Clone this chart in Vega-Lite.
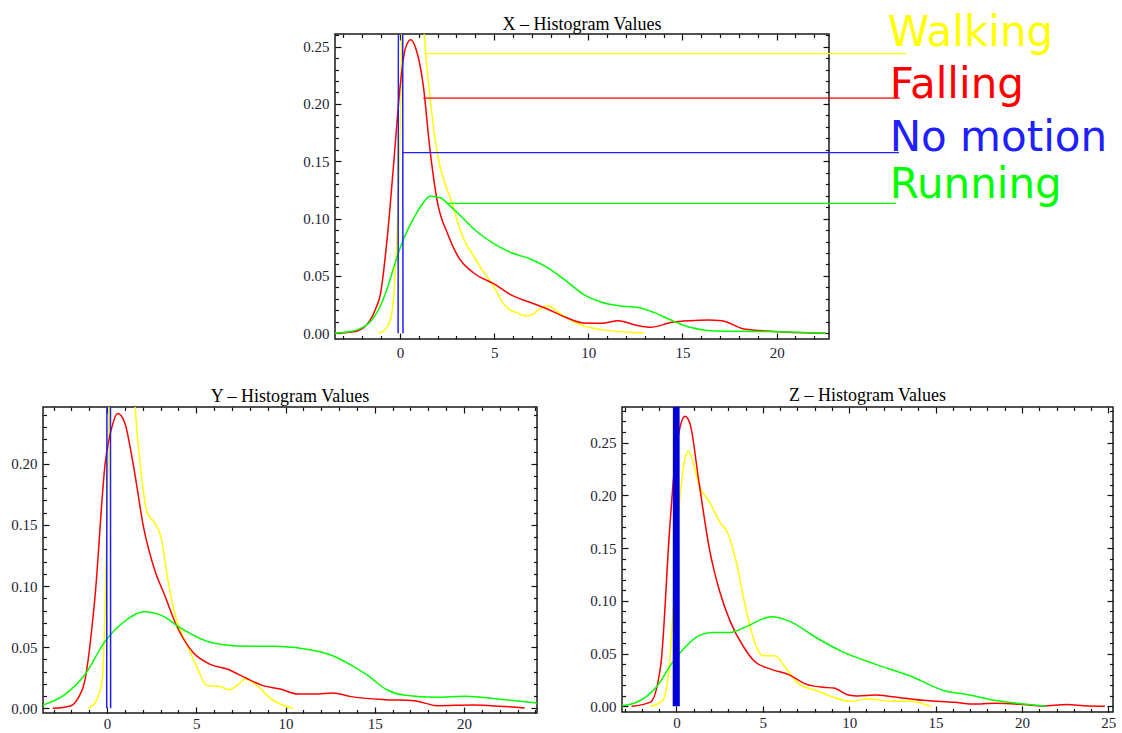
{
  "$schema": "https://vega.github.io/schema/vega-lite/v6.json",
  "background": "white",
  "padding": {"left": 10, "top": 11, "right": 0, "bottom": 0},
  "config": {
    "view": {"stroke": "#1a1a1a", "strokeWidth": 1.5},
    "axis": {"domain": false, "grid": false, "title": null, "tickColor": "#111", "tickWidth": 1.2, "labelFont": "Liberation Serif", "labelFontSize": 15, "labelColor": "#222233", "labelPadding": 12, "labelFlush": false, "labelOverlap": false, "labelBound": false},
    "title": {"font": "Liberation Serif", "fontSize": 18, "fontWeight": "normal", "color": "#000", "baseline": "alphabetic", "offset": 5}
  },
  "datasets": {
    "curves": [
      {"panel": "X", "series": "Walking", "x": -1.13, "y": 0}, {"panel": "X", "series": "Walking", "x": -0.8, "y": 0.003}, {"panel": "X", "series": "Walking", "x": -0.5, "y": 0.012}, {"panel": "X", "series": "Walking", "x": -0.3, "y": 0.04}, {"panel": "X", "series": "Walking", "x": -0.15, "y": 0.09}, {"panel": "X", "series": "Walking", "x": 0, "y": 0.17}, {"panel": "X", "series": "Walking", "x": 0.1, "y": 0.27}, {"panel": "X", "series": "Walking", "x": 0.35, "y": 0.38}, {"panel": "X", "series": "Walking", "x": 0.7, "y": 0.42}, {"panel": "X", "series": "Walking", "x": 1.0, "y": 0.37}, {"panel": "X", "series": "Walking", "x": 1.29, "y": 0.261}, {"panel": "X", "series": "Walking", "x": 1.6, "y": 0.205}, {"panel": "X", "series": "Walking", "x": 1.98, "y": 0.157}, {"panel": "X", "series": "Walking", "x": 2.3, "y": 0.135}, {"panel": "X", "series": "Walking", "x": 2.74, "y": 0.115}, {"panel": "X", "series": "Walking", "x": 3.1, "y": 0.095}, {"panel": "X", "series": "Walking", "x": 3.5, "y": 0.078}, {"panel": "X", "series": "Walking", "x": 3.9, "y": 0.068}, {"panel": "X", "series": "Walking", "x": 4.25, "y": 0.058}, {"panel": "X", "series": "Walking", "x": 4.6, "y": 0.05}, {"panel": "X", "series": "Walking", "x": 5.0, "y": 0.04}, {"panel": "X", "series": "Walking", "x": 5.4, "y": 0.028}, {"panel": "X", "series": "Walking", "x": 5.77, "y": 0.021}, {"panel": "X", "series": "Walking", "x": 6.2, "y": 0.018}, {"panel": "X", "series": "Walking", "x": 6.7, "y": 0.015}, {"panel": "X", "series": "Walking", "x": 7.0, "y": 0.016}, {"panel": "X", "series": "Walking", "x": 7.3, "y": 0.0197}, {"panel": "X", "series": "Walking", "x": 7.85, "y": 0.024}, {"panel": "X", "series": "Walking", "x": 8.2, "y": 0.021}, {"panel": "X", "series": "Walking", "x": 8.6, "y": 0.016}, {"panel": "X", "series": "Walking", "x": 9.1, "y": 0.011}, {"panel": "X", "series": "Walking", "x": 9.7, "y": 0.0067}, {"panel": "X", "series": "Walking", "x": 10.4, "y": 0.004}, {"panel": "X", "series": "Walking", "x": 11.05, "y": 0.0023}, {"panel": "X", "series": "Walking", "x": 12.0, "y": 0.001}, {"panel": "X", "series": "Walking", "x": 12.95, "y": 0.0003},
      {"panel": "X", "series": "Falling", "x": -3.5, "y": 0}, {"panel": "X", "series": "Falling", "x": -2.55, "y": 0.001}, {"panel": "X", "series": "Falling", "x": -2.0, "y": 0.004}, {"panel": "X", "series": "Falling", "x": -1.6, "y": 0.011}, {"panel": "X", "series": "Falling", "x": -1.3, "y": 0.021}, {"panel": "X", "series": "Falling", "x": -1.04, "y": 0.034}, {"panel": "X", "series": "Falling", "x": -0.66, "y": 0.086}, {"panel": "X", "series": "Falling", "x": -0.28, "y": 0.159}, {"panel": "X", "series": "Falling", "x": 0, "y": 0.214}, {"panel": "X", "series": "Falling", "x": 0.28, "y": 0.248}, {"panel": "X", "series": "Falling", "x": 0.57, "y": 0.256}, {"panel": "X", "series": "Falling", "x": 0.85, "y": 0.248}, {"panel": "X", "series": "Falling", "x": 1.23, "y": 0.217}, {"panel": "X", "series": "Falling", "x": 1.6, "y": 0.159}, {"panel": "X", "series": "Falling", "x": 1.98, "y": 0.115}, {"panel": "X", "series": "Falling", "x": 2.55, "y": 0.086}, {"panel": "X", "series": "Falling", "x": 3.12, "y": 0.066}, {"panel": "X", "series": "Falling", "x": 3.88, "y": 0.053}, {"panel": "X", "series": "Falling", "x": 5.0, "y": 0.043}, {"panel": "X", "series": "Falling", "x": 5.95, "y": 0.033}, {"panel": "X", "series": "Falling", "x": 6.9, "y": 0.027}, {"panel": "X", "series": "Falling", "x": 7.85, "y": 0.021}, {"panel": "X", "series": "Falling", "x": 8.8, "y": 0.014}, {"panel": "X", "series": "Falling", "x": 9.74, "y": 0.009}, {"panel": "X", "series": "Falling", "x": 10.7, "y": 0.0087}, {"panel": "X", "series": "Falling", "x": 11.6, "y": 0.011}, {"panel": "X", "series": "Falling", "x": 12.6, "y": 0.0067}, {"panel": "X", "series": "Falling", "x": 13.3, "y": 0.0052}, {"panel": "X", "series": "Falling", "x": 14.46, "y": 0.0096}, {"panel": "X", "series": "Falling", "x": 15.4, "y": 0.011}, {"panel": "X", "series": "Falling", "x": 16.35, "y": 0.0116}, {"panel": "X", "series": "Falling", "x": 17.1, "y": 0.011}, {"panel": "X", "series": "Falling", "x": 18.26, "y": 0.0038}, {"panel": "X", "series": "Falling", "x": 20.1, "y": 0.0014}, {"panel": "X", "series": "Falling", "x": 22.6, "y": 0},
      {"panel": "X", "series": "Running", "x": -3.5, "y": 0}, {"panel": "X", "series": "Running", "x": -2.55, "y": 0.0017}, {"panel": "X", "series": "Running", "x": -1.6, "y": 0.0096}, {"panel": "X", "series": "Running", "x": -1.1, "y": 0.022}, {"panel": "X", "series": "Running", "x": -0.66, "y": 0.04}, {"panel": "X", "series": "Running", "x": -0.3, "y": 0.059}, {"panel": "X", "series": "Running", "x": 0.09, "y": 0.078}, {"panel": "X", "series": "Running", "x": 0.4, "y": 0.09}, {"panel": "X", "series": "Running", "x": 0.85, "y": 0.104}, {"panel": "X", "series": "Running", "x": 1.2, "y": 0.113}, {"panel": "X", "series": "Running", "x": 1.6, "y": 0.1196}, {"panel": "X", "series": "Running", "x": 2.17, "y": 0.118}, {"panel": "X", "series": "Running", "x": 2.6, "y": 0.112}, {"panel": "X", "series": "Running", "x": 3.12, "y": 0.104}, {"panel": "X", "series": "Running", "x": 4.06, "y": 0.089}, {"panel": "X", "series": "Running", "x": 5.0, "y": 0.078}, {"panel": "X", "series": "Running", "x": 5.95, "y": 0.07}, {"panel": "X", "series": "Running", "x": 6.9, "y": 0.065}, {"panel": "X", "series": "Running", "x": 7.85, "y": 0.057}, {"panel": "X", "series": "Running", "x": 8.8, "y": 0.046}, {"panel": "X", "series": "Running", "x": 9.74, "y": 0.034}, {"panel": "X", "series": "Running", "x": 10.7, "y": 0.027}, {"panel": "X", "series": "Running", "x": 11.6, "y": 0.024}, {"panel": "X", "series": "Running", "x": 12.6, "y": 0.0226}, {"panel": "X", "series": "Running", "x": 13.5, "y": 0.018}, {"panel": "X", "series": "Running", "x": 14.46, "y": 0.011}, {"panel": "X", "series": "Running", "x": 15.4, "y": 0.0052}, {"panel": "X", "series": "Running", "x": 16.3, "y": 0.0025}, {"panel": "X", "series": "Running", "x": 17.3, "y": 0.0017}, {"panel": "X", "series": "Running", "x": 20.1, "y": 0.0014}, {"panel": "X", "series": "Running", "x": 22.6, "y": 0},
      {"panel": "X", "series": "No motion", "x": -0.1, "y": 0}, {"panel": "X", "series": "No motion", "x": -0.06, "y": 0.5}, {"panel": "X", "series": "No motion", "x": 0.13, "y": 0.5}, {"panel": "X", "series": "No motion", "x": 0.16, "y": 0},
      {"panel": "Y", "series": "Walking", "x": -1.08, "y": 0}, {"panel": "Y", "series": "Walking", "x": -0.7, "y": 0.004}, {"panel": "Y", "series": "Walking", "x": -0.45, "y": 0.012}, {"panel": "Y", "series": "Walking", "x": -0.29, "y": 0.021}, {"panel": "Y", "series": "Walking", "x": -0.15, "y": 0.06}, {"panel": "Y", "series": "Walking", "x": -0.05, "y": 0.12}, {"panel": "Y", "series": "Walking", "x": 0.05, "y": 0.2}, {"panel": "Y", "series": "Walking", "x": 0.12, "y": 0.26}, {"panel": "Y", "series": "Walking", "x": 0.5, "y": 0.4}, {"panel": "Y", "series": "Walking", "x": 1.0, "y": 0.4}, {"panel": "Y", "series": "Walking", "x": 1.57, "y": 0.246}, {"panel": "Y", "series": "Walking", "x": 1.86, "y": 0.199}, {"panel": "Y", "series": "Walking", "x": 2.25, "y": 0.16}, {"panel": "Y", "series": "Walking", "x": 2.65, "y": 0.152}, {"panel": "Y", "series": "Walking", "x": 3.04, "y": 0.139}, {"panel": "Y", "series": "Walking", "x": 3.43, "y": 0.103}, {"panel": "Y", "series": "Walking", "x": 3.82, "y": 0.076}, {"panel": "Y", "series": "Walking", "x": 4.41, "y": 0.054}, {"panel": "Y", "series": "Walking", "x": 5.0, "y": 0.035}, {"panel": "Y", "series": "Walking", "x": 5.6, "y": 0.0186}, {"panel": "Y", "series": "Walking", "x": 6.27, "y": 0.018}, {"panel": "Y", "series": "Walking", "x": 6.86, "y": 0.0153}, {"panel": "Y", "series": "Walking", "x": 7.3, "y": 0.019}, {"panel": "Y", "series": "Walking", "x": 7.75, "y": 0.024}, {"panel": "Y", "series": "Walking", "x": 8.2, "y": 0.021}, {"panel": "Y", "series": "Walking", "x": 8.53, "y": 0.017}, {"panel": "Y", "series": "Walking", "x": 9.0, "y": 0.01}, {"panel": "Y", "series": "Walking", "x": 9.5, "y": 0.005}, {"panel": "Y", "series": "Walking", "x": 10.4, "y": 0},
      {"panel": "Y", "series": "Falling", "x": -3.04, "y": 0}, {"panel": "Y", "series": "Falling", "x": -2.06, "y": 0.002}, {"panel": "Y", "series": "Falling", "x": -1.6, "y": 0.009}, {"panel": "Y", "series": "Falling", "x": -1.27, "y": 0.021}, {"panel": "Y", "series": "Falling", "x": -0.69, "y": 0.089}, {"panel": "Y", "series": "Falling", "x": -0.1, "y": 0.201}, {"panel": "Y", "series": "Falling", "x": 0.29, "y": 0.231}, {"panel": "Y", "series": "Falling", "x": 0.59, "y": 0.241}, {"panel": "Y", "series": "Falling", "x": 0.98, "y": 0.234}, {"panel": "Y", "series": "Falling", "x": 1.47, "y": 0.199}, {"panel": "Y", "series": "Falling", "x": 2.06, "y": 0.147}, {"panel": "Y", "series": "Falling", "x": 2.65, "y": 0.114}, {"panel": "Y", "series": "Falling", "x": 3.24, "y": 0.092}, {"panel": "Y", "series": "Falling", "x": 3.82, "y": 0.07}, {"panel": "Y", "series": "Falling", "x": 4.8, "y": 0.046}, {"panel": "Y", "series": "Falling", "x": 5.78, "y": 0.036}, {"panel": "Y", "series": "Falling", "x": 6.76, "y": 0.032}, {"panel": "Y", "series": "Falling", "x": 7.75, "y": 0.025}, {"panel": "Y", "series": "Falling", "x": 8.73, "y": 0.0186}, {"panel": "Y", "series": "Falling", "x": 9.7, "y": 0.0158}, {"panel": "Y", "series": "Falling", "x": 10.7, "y": 0.0117}, {"panel": "Y", "series": "Falling", "x": 11.67, "y": 0.0117}, {"panel": "Y", "series": "Falling", "x": 12.65, "y": 0.0126}, {"panel": "Y", "series": "Falling", "x": 13.6, "y": 0.0098}, {"panel": "Y", "series": "Falling", "x": 15.6, "y": 0.0071}, {"panel": "Y", "series": "Falling", "x": 17.2, "y": 0.0063}, {"panel": "Y", "series": "Falling", "x": 18.5, "y": 0.0022}, {"panel": "Y", "series": "Falling", "x": 20.5, "y": 0.0027}, {"panel": "Y", "series": "Falling", "x": 21.5, "y": 0.0022}, {"panel": "Y", "series": "Falling", "x": 23.4, "y": 0.0003},
      {"panel": "Y", "series": "Running", "x": -3.59, "y": 0.0027}, {"panel": "Y", "series": "Running", "x": -2.45, "y": 0.0104}, {"panel": "Y", "series": "Running", "x": -1.27, "y": 0.027}, {"panel": "Y", "series": "Running", "x": -0.1, "y": 0.055}, {"panel": "Y", "series": "Running", "x": 0.88, "y": 0.07}, {"panel": "Y", "series": "Running", "x": 2.06, "y": 0.079}, {"panel": "Y", "series": "Running", "x": 3.04, "y": 0.076}, {"panel": "Y", "series": "Running", "x": 4.2, "y": 0.065}, {"panel": "Y", "series": "Running", "x": 5.78, "y": 0.054}, {"panel": "Y", "series": "Running", "x": 7.35, "y": 0.051}, {"panel": "Y", "series": "Running", "x": 9.3, "y": 0.0507}, {"panel": "Y", "series": "Running", "x": 10.9, "y": 0.049}, {"panel": "Y", "series": "Running", "x": 12.65, "y": 0.043}, {"panel": "Y", "series": "Running", "x": 13.6, "y": 0.036}, {"panel": "Y", "series": "Running", "x": 14.6, "y": 0.027}, {"panel": "Y", "series": "Running", "x": 15.6, "y": 0.0158}, {"panel": "Y", "series": "Running", "x": 16.6, "y": 0.0109}, {"panel": "Y", "series": "Running", "x": 18.5, "y": 0.009}, {"panel": "Y", "series": "Running", "x": 20.1, "y": 0.0098}, {"panel": "Y", "series": "Running", "x": 21.9, "y": 0.0076}, {"panel": "Y", "series": "Running", "x": 24.09, "y": 0.0044},
      {"panel": "Y", "series": "No motion", "x": -0.02, "y": 0}, {"panel": "Y", "series": "No motion", "x": 0, "y": 0.5}, {"panel": "Y", "series": "No motion", "x": 0.18, "y": 0.5}, {"panel": "Y", "series": "No motion", "x": 0.2, "y": 0},
      {"panel": "Z", "series": "Walking", "x": -1.5, "y": 0}, {"panel": "Z", "series": "Walking", "x": -0.8, "y": 0.0054}, {"panel": "Z", "series": "Walking", "x": -0.4, "y": 0.04}, {"panel": "Z", "series": "Walking", "x": -0.1, "y": 0.119}, {"panel": "Z", "series": "Walking", "x": 0.2, "y": 0.197}, {"panel": "Z", "series": "Walking", "x": 0.5, "y": 0.235}, {"panel": "Z", "series": "Walking", "x": 0.7, "y": 0.242}, {"panel": "Z", "series": "Walking", "x": 1.0, "y": 0.229}, {"panel": "Z", "series": "Walking", "x": 1.3, "y": 0.21}, {"panel": "Z", "series": "Walking", "x": 1.9, "y": 0.194}, {"panel": "Z", "series": "Walking", "x": 2.5, "y": 0.175}, {"panel": "Z", "series": "Walking", "x": 3.0, "y": 0.163}, {"panel": "Z", "series": "Walking", "x": 3.5, "y": 0.134}, {"panel": "Z", "series": "Walking", "x": 4.0, "y": 0.094}, {"panel": "Z", "series": "Walking", "x": 4.5, "y": 0.062}, {"panel": "Z", "series": "Walking", "x": 5.0, "y": 0.048}, {"panel": "Z", "series": "Walking", "x": 5.7, "y": 0.048}, {"panel": "Z", "series": "Walking", "x": 6.3, "y": 0.037}, {"panel": "Z", "series": "Walking", "x": 7.1, "y": 0.021}, {"panel": "Z", "series": "Walking", "x": 8.1, "y": 0.015}, {"panel": "Z", "series": "Walking", "x": 9.1, "y": 0.0085}, {"panel": "Z", "series": "Walking", "x": 10.1, "y": 0.0047}, {"panel": "Z", "series": "Walking", "x": 11.1, "y": 0.007}, {"panel": "Z", "series": "Walking", "x": 12.5, "y": 0.0047}, {"panel": "Z", "series": "Walking", "x": 13.5, "y": 0.0047}, {"panel": "Z", "series": "Walking", "x": 14.7, "y": 0},
      {"panel": "Z", "series": "Falling", "x": -2.6, "y": 0}, {"panel": "Z", "series": "Falling", "x": -1.5, "y": 0.004}, {"panel": "Z", "series": "Falling", "x": -0.9, "y": 0.04}, {"panel": "Z", "series": "Falling", "x": -0.4, "y": 0.166}, {"panel": "Z", "series": "Falling", "x": -0.1, "y": 0.229}, {"panel": "Z", "series": "Falling", "x": 0.2, "y": 0.264}, {"panel": "Z", "series": "Falling", "x": 0.5, "y": 0.275}, {"panel": "Z", "series": "Falling", "x": 0.8, "y": 0.267}, {"panel": "Z", "series": "Falling", "x": 1.3, "y": 0.213}, {"panel": "Z", "series": "Falling", "x": 1.9, "y": 0.15}, {"panel": "Z", "series": "Falling", "x": 2.5, "y": 0.109}, {"panel": "Z", "series": "Falling", "x": 3.1, "y": 0.081}, {"panel": "Z", "series": "Falling", "x": 3.9, "y": 0.056}, {"panel": "Z", "series": "Falling", "x": 4.5, "y": 0.043}, {"panel": "Z", "series": "Falling", "x": 5.5, "y": 0.035}, {"panel": "Z", "series": "Falling", "x": 6.5, "y": 0.03}, {"panel": "Z", "series": "Falling", "x": 7.5, "y": 0.021}, {"panel": "Z", "series": "Falling", "x": 8.5, "y": 0.018}, {"panel": "Z", "series": "Falling", "x": 9.1, "y": 0.0173}, {"panel": "Z", "series": "Falling", "x": 9.9, "y": 0.011}, {"panel": "Z", "series": "Falling", "x": 10.5, "y": 0.0098}, {"panel": "Z", "series": "Falling", "x": 11.5, "y": 0.0107}, {"panel": "Z", "series": "Falling", "x": 12.5, "y": 0.0091}, {"panel": "Z", "series": "Falling", "x": 14.5, "y": 0.0054}, {"panel": "Z", "series": "Falling", "x": 16.1, "y": 0.0038}, {"panel": "Z", "series": "Falling", "x": 17.1, "y": 0.0022}, {"panel": "Z", "series": "Falling", "x": 18.5, "y": 0.0028}, {"panel": "Z", "series": "Falling", "x": 20.1, "y": 0.0016}, {"panel": "Z", "series": "Falling", "x": 21.2, "y": 0.0003}, {"panel": "Z", "series": "Falling", "x": 22.6, "y": 0.0016}, {"panel": "Z", "series": "Falling", "x": 23.6, "y": 0.0006}, {"panel": "Z", "series": "Falling", "x": 24.8, "y": 0},
      {"panel": "Z", "series": "Running", "x": -3.15, "y": 0.0006}, {"panel": "Z", "series": "Running", "x": -2.3, "y": 0.0038}, {"panel": "Z", "series": "Running", "x": -1.1, "y": 0.0195}, {"panel": "Z", "series": "Running", "x": -0.3, "y": 0.04}, {"panel": "Z", "series": "Running", "x": 0.5, "y": 0.056}, {"panel": "Z", "series": "Running", "x": 1.3, "y": 0.067}, {"panel": "Z", "series": "Running", "x": 2.1, "y": 0.07}, {"panel": "Z", "series": "Running", "x": 3.1, "y": 0.07}, {"panel": "Z", "series": "Running", "x": 4.1, "y": 0.076}, {"panel": "Z", "series": "Running", "x": 5.5, "y": 0.085}, {"panel": "Z", "series": "Running", "x": 6.5, "y": 0.081}, {"panel": "Z", "series": "Running", "x": 8.1, "y": 0.065}, {"panel": "Z", "series": "Running", "x": 9.5, "y": 0.0526}, {"panel": "Z", "series": "Running", "x": 11.5, "y": 0.04}, {"panel": "Z", "series": "Running", "x": 13.5, "y": 0.029}, {"panel": "Z", "series": "Running", "x": 15.5, "y": 0.0148}, {"panel": "Z", "series": "Running", "x": 16.9, "y": 0.011}, {"panel": "Z", "series": "Running", "x": 18.5, "y": 0.0054}, {"panel": "Z", "series": "Running", "x": 20.1, "y": 0.0022}, {"panel": "Z", "series": "Running", "x": 21.4, "y": 0},
      {"panel": "Z", "series": "No motion", "x": -0.1, "y": 0}, {"panel": "Z", "series": "No motion", "x": -0.08, "y": 0.5}, {"panel": "Z", "series": "No motion", "x": 0.06, "y": 0.5}, {"panel": "Z", "series": "No motion", "x": 0.08, "y": 0}
    ],
    "callouts": [
      {"series": "Walking", "x": 1.29, "x2": 26.86, "y": 0.2438, "lx": 25.9, "ly": 0.2505},
      {"series": "Falling", "x": 1.23, "x2": 26.54, "y": 0.2051, "lx": 26.0, "ly": 0.2051},
      {"series": "No motion", "x": 0.15, "x2": 26.49, "y": 0.1575, "lx": 26.0, "ly": 0.159},
      {"series": "Running", "x": 2.46, "x2": 26.33, "y": 0.1133, "lx": 26.0, "ly": 0.118}
    ]
  },
  "spacing": 22,
  "vconcat": [
    {
      "spacing": 0,
      "hconcat": [
        {"width": 259, "height": 10, "view": {"stroke": null}, "data": {"values": [{"a": 1}]}, "mark": {"type": "point", "opacity": 0}},
        {
          "title": {"text": "X – Histogram Values", "offset": -22},
          "width": 494, "height": 305,
          "layer": [
            {
              "data": {"name": "curves"}, "transform": [{"filter": "datum.panel === 'X'"}],
              "mark": {"type": "line", "clip": true, "strokeWidth": 1.5, "interpolate": "monotone"},
              "encoding": {
                "x": {"field": "x", "type": "quantitative", "scale": {"domain": [-3.45, 22.78], "nice": false, "zero": false},
                  "axis": {"orient": "bottom", "values": [-3,-2,-1,0,1,2,3,4,5,6,7,8,9,10,11,12,13,14,15,16,17,18,19,20,21,22], "labelExpr": "datum.value % 5 === 0 ? datum.label : ''", "tickSize": {"condition": {"test": "datum.value % 5 === 0", "value": -6}, "value": -3.5}}},
                "y": {"field": "y", "type": "quantitative", "scale": {"domain": [-0.005, 0.261], "nice": false, "zero": false},
                  "axis": {"orient": "left", "format": ".2f", "values": [0,0.01,0.02,0.03,0.04,0.05,0.06,0.07,0.08,0.09,0.1,0.11,0.12,0.13,0.14,0.15,0.16,0.17,0.18,0.19,0.2,0.21,0.22,0.23,0.24,0.25,0.26], "labelExpr": "round(datum.value*100) % 5 === 0 ? datum.label : ''", "tickSize": {"condition": {"test": "round(datum.value*100) % 5 === 0", "value": -6}, "value": -3.5}}},
                "color": {"field": "series", "type": "nominal", "scale": {"domain": ["Walking", "Falling", "No motion", "Running"], "range": ["#FFFF00", "#FF0000", "#2020FF", "#00FF00"]}, "legend": null}
              }
            },
            {
              "data": {"name": "callouts"},
              "mark": {"type": "rule", "clip": false, "strokeWidth": 1.2},
              "encoding": {
                "x": {"field": "x", "type": "quantitative", "scale": {"domain": [-3.45, 22.78], "nice": false, "zero": false},
                  "axis": {"orient": "top", "labels": false, "values": [-3,-2,-1,0,1,2,3,4,5,6,7,8,9,10,11,12,13,14,15,16,17,18,19,20,21,22], "tickSize": {"condition": {"test": "datum.value % 5 === 0", "value": -6}, "value": -3.5}}},
                "x2": {"field": "x2"},
                "y": {"field": "y", "type": "quantitative", "scale": {"domain": [-0.005, 0.261], "nice": false, "zero": false},
                  "axis": {"orient": "right", "labels": false, "values": [0,0.01,0.02,0.03,0.04,0.05,0.06,0.07,0.08,0.09,0.1,0.11,0.12,0.13,0.14,0.15,0.16,0.17,0.18,0.19,0.2,0.21,0.22,0.23,0.24,0.25,0.26], "tickSize": {"condition": {"test": "round(datum.value*100) % 5 === 0", "value": -6}, "value": -3.5}}},
                "color": {"field": "series", "type": "nominal", "scale": {"domain": ["Walking", "Falling", "No motion", "Running"], "range": ["#FFFF00", "#FF0000", "#2020FF", "#00FF00"]}, "legend": null}
              }
            },
            {
              "data": {"name": "callouts"},
              "mark": {"type": "text", "align": "left", "baseline": "alphabetic", "font": "DejaVu Sans", "fontSize": 42},
              "encoding": {
                "x": {"field": "lx", "type": "quantitative", "scale": {"domain": [-3.45, 22.78], "nice": false, "zero": false}, "axis": null},
                "y": {"field": "ly", "type": "quantitative", "scale": {"domain": [-0.005, 0.261], "nice": false, "zero": false}, "axis": null},
                "text": {"field": "series"},
                "color": {"field": "series", "type": "nominal", "scale": {"domain": ["Walking", "Falling", "No motion", "Running"], "range": ["#FFFF00", "#FF0000", "#3A3AFF", "#22EE22"]}, "legend": null}
              }
            }
          ],
          "resolve": {"axis": {"x": "independent", "y": "independent"}}
        }
      ]
    },
    {
      "spacing": 50,
      "hconcat": [
        {
          "title": {"text": "Y – Histogram Values", "offset": 0},
          "width": 494, "height": 306,
          "data": {"name": "curves"},
          "transform": [{"filter": "datum.panel === 'Y'"}],
          "layer": [
            {
              "transform": [{"filter": "datum.series !== 'No motion'"}],
              "mark": {"type": "line", "clip": true, "strokeWidth": 1.5, "interpolate": "monotone"},
              "encoding": {
                "x": {"field": "x", "type": "quantitative", "scale": {"domain": [-3.59, 24.09], "nice": false, "zero": false},
                  "axis": {"orient": "bottom", "labelPadding": 9, "values": [-3,-2,-1,0,1,2,3,4,5,6,7,8,9,10,11,12,13,14,15,16,17,18,19,20,21,22,23,24], "labelExpr": "datum.value % 5 === 0 ? datum.label : ''", "tickSize": {"condition": {"test": "datum.value % 5 === 0", "value": -6}, "value": -3.5}}},
                "y": {"field": "y", "type": "quantitative", "scale": {"domain": [-0.0038, 0.2464], "nice": false, "zero": false},
                  "axis": {"orient": "left", "format": ".2f", "values": [0,0.01,0.02,0.03,0.04,0.05,0.06,0.07,0.08,0.09,0.1,0.11,0.12,0.13,0.14,0.15,0.16,0.17,0.18,0.19,0.2,0.21,0.22,0.23,0.24], "labelExpr": "round(datum.value*100) % 5 === 0 ? datum.label : ''", "tickSize": {"condition": {"test": "round(datum.value*100) % 5 === 0", "value": -6}, "value": -3.5}}},
                "color": {"field": "series", "type": "nominal", "scale": {"domain": ["Walking", "Falling", "No motion", "Running"], "range": ["#FFFF00", "#FF0000", "#2020FF", "#00FF00"]}, "legend": null}
              }
            },
            {
              "transform": [{"filter": "datum.series === 'No motion'"}],
              "mark": {"type": "line", "clip": true, "strokeWidth": 1.5},
              "encoding": {
                "x": {"field": "x", "type": "quantitative", "scale": {"domain": [-3.59, 24.09], "nice": false, "zero": false},
                  "axis": {"orient": "top", "labels": false, "values": [-3,-2,-1,0,1,2,3,4,5,6,7,8,9,10,11,12,13,14,15,16,17,18,19,20,21,22,23,24], "tickSize": {"condition": {"test": "datum.value % 5 === 0", "value": -6}, "value": -3.5}}},
                "y": {"field": "y", "type": "quantitative", "scale": {"domain": [-0.0038, 0.2464], "nice": false, "zero": false},
                  "axis": {"orient": "right", "labels": false, "values": [0,0.01,0.02,0.03,0.04,0.05,0.06,0.07,0.08,0.09,0.1,0.11,0.12,0.13,0.14,0.15,0.16,0.17,0.18,0.19,0.2,0.21,0.22,0.23,0.24], "tickSize": {"condition": {"test": "round(datum.value*100) % 5 === 0", "value": -6}, "value": -3.5}}},
                "color": {"field": "series", "type": "nominal", "scale": {"domain": ["Walking", "Falling", "No motion", "Running"], "range": ["#FFFF00", "#FF0000", "#2020FF", "#00FF00"]}, "legend": null}
              }
            }
          ],
          "resolve": {"axis": {"x": "independent", "y": "independent"}}
        },
        {
          "title": {"text": "Z – Histogram Values", "offset": -1},
          "width": 491, "height": 305,
          "data": {"name": "curves"},
          "transform": [{"filter": "datum.panel === 'Z'"}],
          "layer": [
            {
              "transform": [{"filter": "datum.series !== 'No motion'"}],
              "mark": {"type": "line", "clip": true, "strokeWidth": 1.5, "interpolate": "monotone"},
              "encoding": {
                "x": {"field": "x", "type": "quantitative", "scale": {"domain": [-3.15, 25.27], "nice": false, "zero": false},
                  "axis": {"orient": "bottom", "labelPadding": 9, "values": [-3,-2,-1,0,1,2,3,4,5,6,7,8,9,10,11,12,13,14,15,16,17,18,19,20,21,22,23,24,25], "labelExpr": "datum.value % 5 === 0 ? datum.label : ''", "tickSize": {"condition": {"test": "datum.value % 5 === 0", "value": -6}, "value": -3.5}}},
                "y": {"field": "y", "type": "quantitative", "scale": {"domain": [-0.0054, 0.2837], "nice": false, "zero": false},
                  "axis": {"orient": "left", "format": ".2f", "values": [0,0.01,0.02,0.03,0.04,0.05,0.06,0.07,0.08,0.09,0.1,0.11,0.12,0.13,0.14,0.15,0.16,0.17,0.18,0.19,0.2,0.21,0.22,0.23,0.24,0.25,0.26,0.27,0.28], "labelExpr": "round(datum.value*100) % 5 === 0 ? datum.label : ''", "tickSize": {"condition": {"test": "round(datum.value*100) % 5 === 0", "value": -6}, "value": -3.5}}},
                "color": {"field": "series", "type": "nominal", "scale": {"domain": ["Walking", "Falling", "No motion", "Running"], "range": ["#FFFF00", "#FF0000", "#2020FF", "#00FF00"]}, "legend": null}
              }
            },
            {
              "transform": [{"filter": "datum.series === 'No motion'"}],
              "mark": {"type": "line", "clip": true, "strokeWidth": 4, "color": "#0000D8"},
              "encoding": {
                "x": {"field": "x", "type": "quantitative", "scale": {"domain": [-3.15, 25.27], "nice": false, "zero": false},
                  "axis": {"orient": "top", "labels": false, "values": [-3,-2,-1,0,1,2,3,4,5,6,7,8,9,10,11,12,13,14,15,16,17,18,19,20,21,22,23,24,25], "tickSize": {"condition": {"test": "datum.value % 5 === 0", "value": -6}, "value": -3.5}}},
                "y": {"field": "y", "type": "quantitative", "scale": {"domain": [-0.0054, 0.2837], "nice": false, "zero": false},
                  "axis": {"orient": "right", "labels": false, "values": [0,0.01,0.02,0.03,0.04,0.05,0.06,0.07,0.08,0.09,0.1,0.11,0.12,0.13,0.14,0.15,0.16,0.17,0.18,0.19,0.2,0.21,0.22,0.23,0.24,0.25,0.26,0.27,0.28], "tickSize": {"condition": {"test": "round(datum.value*100) % 5 === 0", "value": -6}, "value": -3.5}}},
                "detail": {"field": "series"}
              }
            }
          ],
          "resolve": {"axis": {"x": "independent", "y": "independent"}}
        }
      ]
    }
  ]
}
